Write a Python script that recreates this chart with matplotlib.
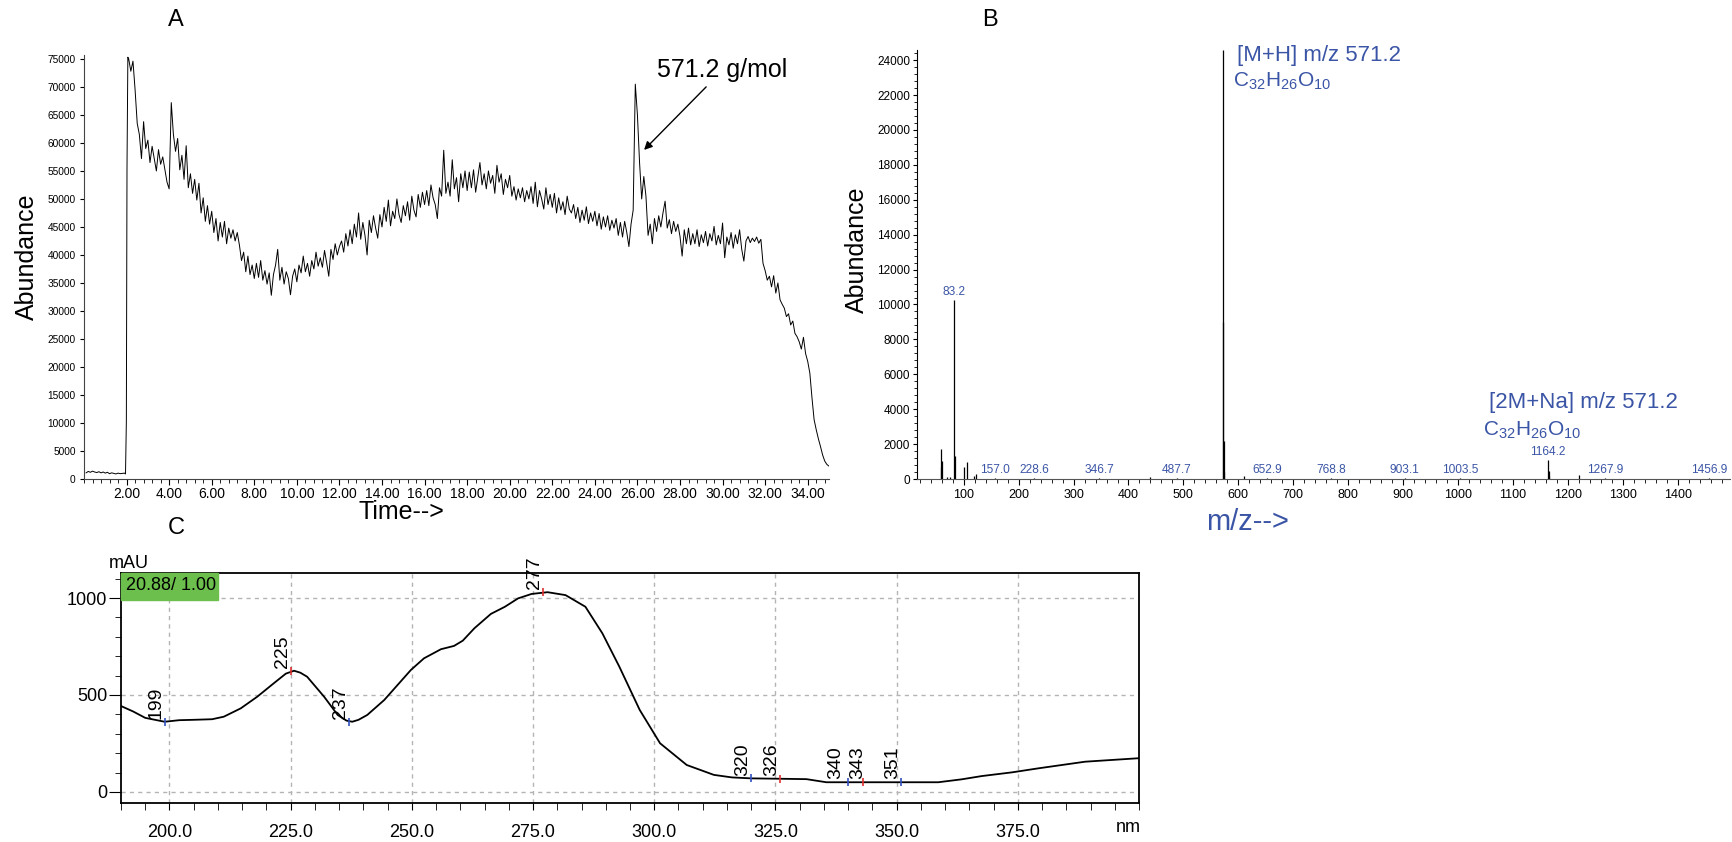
import numpy as np
import matplotlib
matplotlib.use('Agg')
from matplotlib import pyplot as plt
from matplotlib import font_manager as fm
from matplotlib import patches
from matplotlib.ticker import MultipleLocator, FixedLocator

W, H = 1733, 842
plt.rcParams['font.family'] = 'Liberation Sans'
plt.rcParams['mathtext.fontset'] = 'custom'
plt.rcParams['mathtext.rm'] = 'Liberation Sans'
plt.rcParams['mathtext.it'] = 'Liberation Sans:italic'

installed = {f.name for f in fm.fontManager.ttflist}
has_narrow = 'Liberation Sans Narrow' in installed
narrow = 'Liberation Sans Narrow' if has_narrow else 'Liberation Sans'

# ---------------- data: A, total ion chromatogram ----------------
# flat baseline before the solvent front, sampled every 0.1 min from 0.1
baseline_A = [1100, 1350, 1200, 1400, 1250, 1150, 1300, 1100, 1250, 1050,
              1200, 950, 1100, 1000, 900, 1050, 950, 1000, 1050]
# the jump at ~2 min
jump_t_A = [1.95, 1.97, 1.99, 2.02, 2.06]
jump_A = [900, 5500, 10300, 55500, 75300]
# abundance every 0.1 min, 2.1 .. 35.0 (one row per minute)
abund_A = [
    75000, 72800, 74600, 69500, 63500, 61500, 57200, 63800, 59000, 60500,
    56500, 59400, 57200, 55000, 58800, 56200, 57500, 55200, 53000, 51800,
    67200, 61500, 58500, 60800, 55200, 57800, 53500, 59500, 52000, 54500,
    51000, 53500, 49800, 52800, 47500, 50200, 46000, 48800, 45500, 47800,
    44000, 46500, 42500, 45800, 43200, 46000, 42000, 44800, 43000, 44500,
    42500, 44000, 41800, 39000, 40500, 37000, 39800, 36500, 38200, 35800,
    38500, 36000, 39000, 35500, 37200, 34800, 36800, 32800, 36500, 38200,
    41000, 35500, 37800, 34800, 37000, 35800, 32900, 36200, 37500, 35200,
    38200, 36800, 39800, 37000, 38500, 36200, 39000, 37500, 40500, 38000,
    39500, 37800, 40800, 38600, 36200, 41000, 39200, 42000, 40000, 41500,
    42500, 40500, 43800, 41600, 44500, 42000, 45500, 43200, 47500, 42800,
    45800, 43500, 40000, 46200, 44000, 47000, 44800, 43000, 47200, 45000,
    48500, 46000, 49800, 45200, 47800, 46500, 50000, 47200, 45800, 48800,
    47000, 49500, 46200, 50500, 48000, 46800, 50800, 48500, 51200, 49000,
    51500, 48800, 52500, 50200, 49000, 46500, 52000, 50500, 58700, 51000,
    53000, 50500, 57000, 51800, 53800, 49500, 54500, 52000, 55000, 51500,
    54800, 52000, 55200, 51200, 53800, 56500, 52500, 54500, 51800, 55000,
    52800, 54200, 51000, 56000, 53000, 54500, 50800, 53500, 52000, 54200,
    50500, 52200, 49800, 51800, 50200, 52000, 49500, 51500, 50000, 52200,
    49200, 53000, 48600, 51500, 50000, 48200, 52000, 49000, 50800, 48500,
    51000, 47500, 50200, 48000, 49500, 47200, 50500, 48200, 47500, 49000,
    46500, 48500, 45800, 48000, 46200, 48600, 45600, 47500, 46000, 47800,
    45200, 47400, 44600, 46800, 45000, 47000, 44400, 46200, 44800, 46500,
    43500, 45800, 43200, 46000, 44000, 41500, 45500, 48000, 70500, 65000,
    56500, 50000, 54000, 50500, 43500, 45500, 42000, 46500, 44200, 47000,
    45000, 47500, 49600, 44800, 46300, 43800, 46000, 44200, 45500, 43300,
    39800, 44500, 42000, 44800, 41800, 43800, 42000, 44500, 41500, 43600,
    42200, 44200, 41600, 43800, 42500, 45100, 41800, 43500, 42000, 45700,
    39500, 43200, 41800, 44000, 41200, 43600, 42000, 44500, 41000, 38900,
    42500, 43300, 42200, 43000, 42400, 43200, 42100, 42800, 38500, 37200,
    35500, 36200, 34300, 36300, 33200, 35000, 32000, 31200, 30500, 29000,
    29500, 27500, 28200, 26000, 25400, 24500, 23200, 25300, 22400, 21000,
    18900, 14500, 10600, 8800, 7200, 5800, 4300, 3200, 2600, 2300,
]
time_A = np.concatenate([np.arange(1, 20) / 10, jump_t_A,
                         np.arange(21, 351) / 10])
trace_A = np.concatenate([baseline_A, jump_A, abund_A])

# ---------------- data: B, mass spectrum ----------------
mz_B = [58.1, 59.1, 61.1, 70.0, 75.0, 83.2, 84.2, 100.2, 105.7, 119.6, 122.7,
        157.0, 228.6, 346.7, 440.0, 487.7, 571.2, 572.2, 573.2, 574.2,
        610.0, 652.9, 768.8, 903.1, 1003.5, 1164.2, 1165.2, 1166.2, 1220.0,
        1267.9, 1456.9]
ab_B = [700, 1720, 1020, 100, 120, 10260, 1300, 690, 950, 200, 280,
        60, 40, 50, 90, 60, 24600, 9000, 2200, 400,
        150, 70, 40, 30, 30, 1090, 450, 150, 250,
        60, 40]
peak_labels_B = ['83.2', '157.0', '228.6', '346.7', '487.7', '652.9',
                 '768.8', '903.1', '1003.5', '1164.2', '1267.9', '1456.9']

# ---------------- data: C, UV spectrum ----------------
nm_C = [190, 192.5, 195, 199, 202, 205, 208.8, 211.2, 214.7, 218.1, 221.5,
        224, 225.7, 227, 228.4, 231.9, 234.7, 236.5, 237.7, 239, 240.8,
        244.3, 249.8, 252.5, 256, 258.7, 260.5, 262.9, 266.3, 269.2, 271.9,
        274.7, 278, 281.7, 285.8, 289.3, 292.8, 297, 301.2, 306.7, 312.3,
        316, 320, 326, 331.4, 335.5, 340, 343, 351, 358.6, 363.4, 367.6,
        373.8, 379.3, 388.9, 400]
mau_C = [443, 415, 382, 362, 370, 372, 375, 388, 431, 491, 560,
         610, 625, 615, 594, 491, 397, 368, 362, 372, 397,
         474, 629, 689, 736, 753, 780, 844, 918, 955, 998,
         1021, 1030, 1015, 955, 818, 646, 423, 251, 139, 88,
         75, 70, 68, 66, 50, 50, 50, 50, 50, 65, 82,
         101, 122, 156, 174]
marks_C = [199, 225, 237, 277, 320, 326, 340, 343, 351]
marks_val_C = [362, 625, 362, 1030, 70, 68, 50, 50, 50]
marks_kind_C = ['min', 'max', 'min', 'max', 'min', 'max', 'min', 'max', 'min']

blue = '#3b55a6'


def box(left, top, right, bottom):
    return [left / W, 1 - bottom / H, (right - left) / W, (bottom - top) / H]


def ftext(x, y, s, **kw):
    fig.text(x / W, 1 - y / H, s, **kw)


fig = plt.figure(figsize=(W / 100, H / 100), dpi=100)

# ---------------- panel A ----------------
axA = fig.add_axes(box(84, 55, 829, 479))
axA.plot(time_A, trace_A, color='black', lw=0.7)
axA.set_xlim(0, 35)
axA.set_ylim(0, 75700)
for s in ['top', 'right']:
    axA.spines[s].set_visible(False)
for s in ['left', 'bottom']:
    axA.spines[s].set_color('#444444')
axA.xaxis.set_major_locator(FixedLocator(np.arange(2, 35, 2)))
axA.xaxis.set_minor_locator(MultipleLocator(0.4))
axA.set_xticklabels(['%.2f' % v for v in np.arange(2, 35, 2)])
axA.yaxis.set_major_locator(MultipleLocator(5000))
axA.tick_params(axis='x', which='major', length=4, pad=2, labelsize=10)
axA.tick_params(axis='x', which='minor', length=3)
axA.tick_params(axis='y', length=3, pad=3, labelsize=7.3)
for lab in axA.get_xticklabels():
    lab.set_fontfamily(narrow)
axA.annotate('', xy=(26.22, 58400), xytext=(29.32, 70360),
             arrowprops=dict(arrowstyle='-|>', color='black', lw=1,
                             mutation_scale=12))
axA.text(26.93, 73000, '571.2 g/mol', fontsize=18, ha='left', va='center')
ftext(176, 20, 'A', fontsize=17, ha='center', va='center')
ftext(27, 257, 'Abundance', fontsize=18, rotation=90, ha='center', va='center')
ftext(401, 512, 'Time-->', fontsize=21 if has_narrow else 18,
      family=narrow, ha='center', va='center')

# ---------------- panel B ----------------
axB = fig.add_axes(box(917, 49.7, 1730, 479))
axB.vlines(mz_B, 0, ab_B, color='black', lw=0.9)
axB.set_xlim(15, 1495)
axB.set_ylim(0, 24600)
for s in ['top', 'right']:
    axB.spines[s].set_visible(False)
axB.spines['bottom'].set_color('#555555')
axB.xaxis.set_major_locator(MultipleLocator(100))
axB.xaxis.set_minor_locator(MultipleLocator(20))
axB.yaxis.set_major_locator(MultipleLocator(2000))
axB.yaxis.set_minor_locator(MultipleLocator(400))
axB.set_xticks(np.arange(100, 1401, 100))
axB.tick_params(axis='x', which='major', length=4, pad=3, labelsize=9)
axB.tick_params(axis='x', which='minor', length=3)
axB.tick_params(axis='y', which='major', length=3, pad=2, labelsize=8.5)
axB.tick_params(axis='y', which='minor', length=2)
for lab in peak_labels_B:
    v = float(lab)
    h = ab_B[mz_B.index(v)]
    axB.annotate(lab, xy=(v, h), xytext=(0, 1.5), textcoords='offset points',
                 ha='center', va='bottom', fontsize=8.6, color=blue)
ftext(990, 20, 'B', fontsize=17, ha='center', va='center')
ftext(857, 250, 'Abundance', fontsize=18, rotation=90, ha='center', va='center')
ftext(1248, 522, 'm/z-->', fontsize=21, color=blue, ha='center', va='center')
formula = r'C$_{\mathrm{32}}$H$_{\mathrm{26}}$O$_{\mathrm{10}}$'
ftext(1237, 55, '[M+H] m/z 571.2', fontsize=16, color=blue, va='center')
ftext(1233, 81, formula, fontsize=15, color=blue, va='center')
ftext(1489, 403, '[2M+Na] m/z 571.2', fontsize=16, color=blue, va='center')
ftext(1483, 430, formula, fontsize=15, color=blue, va='center')

# ---------------- panel C ----------------
axC = fig.add_axes(box(121, 573, 1139, 803))
axC.plot(nm_C, mau_C, color='black', lw=1.3, zorder=4)
axC.set_xlim(190, 400)
axC.set_ylim(-57, 1129)
for s in axC.spines.values():
    s.set_linewidth(1.3)
axC.set_xticks(np.arange(200, 376, 25))
axC.set_xticklabels(['%.1f' % v for v in np.arange(200, 376, 25)])
axC.xaxis.set_minor_locator(MultipleLocator(5))
axC.set_yticks([0, 500, 1000])
axC.yaxis.set_minor_locator(MultipleLocator(100))
csize = 15 if has_narrow else 13
axC.tick_params(axis='x', which='both', length=5, pad=10, labelsize=csize)
axC.tick_params(axis='y', which='major', length=9, pad=1, labelsize=csize)
axC.tick_params(axis='y', which='minor', length=4)
for lab in axC.get_xticklabels() + axC.get_yticklabels():
    lab.set_fontfamily(narrow)
axC.grid(True, which='major', color='#b4b4b4', lw=1, ls=(0, (3, 3)))
# the 340 / 343 labels sit almost on top of each other: nudge them apart
nudge_C = {340: -2.5, 343: 2.5}
for x, v, k in zip(marks_C, marks_val_C, marks_kind_C):
    c = '#e03030' if k == 'max' else '#3050c0'
    axC.plot([x], [v], marker='|', ms=6, mew=1.2, color=c, zorder=5)
    axC.annotate(str(x), xy=(x, v), xytext=(nudge_C.get(x, 0), 2),
                 textcoords='offset points', rotation=90, ha='right',
                 va='bottom', fontsize=14, annotation_clip=False, zorder=6)
axC.add_patch(patches.Rectangle((0, 1 - 27 / 230), 97 / 1018, 27 / 230,
                                transform=axC.transAxes, color='#6cbf4c',
                                zorder=3, clip_on=False))
ftext(126, 586, '20.88/ 1.00', fontsize=csize, family=narrow, va='center')
ftext(129, 563, 'mAU', fontsize=csize, family=narrow, ha='center', va='center')
ftext(1128, 828, 'nm', fontsize=csize, family=narrow, ha='center', va='center')
ftext(176, 528, 'C', fontsize=17, ha='center', va='center')

fig.savefig('out.png', dpi=100)
